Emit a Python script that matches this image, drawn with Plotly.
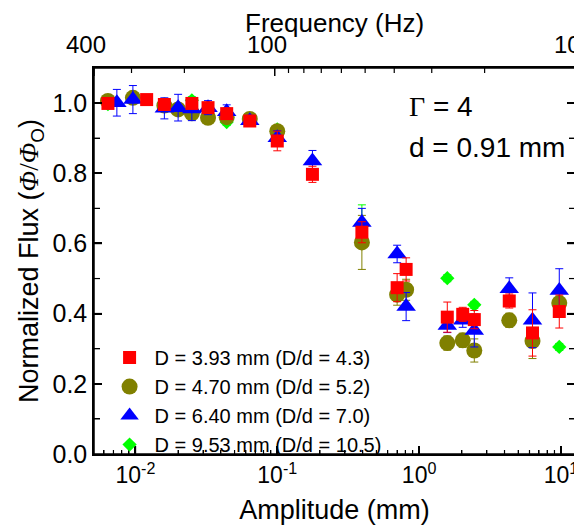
import numpy as np
import plotly.graph_objects as go

# ---- data (Amplitude in mm, normalized flux) ----
red_x = [0.0064, 0.012, 0.016, 0.025, 0.0325, 0.044, 0.064, 0.1, 0.177, 0.395, 0.70, 0.81, 1.58, 2.03, 2.45, 4.32, 6.3, 9.73]
red_y = [0.999, 1.01, 0.996, 0.999, 0.987, 0.97, 0.949, 0.892, 0.797, 0.632, 0.474, 0.526, 0.39, 0.398, 0.383, 0.436, 0.345, 0.406]
red_e = [0.01, 0.01, 0.012, 0.012, 0.012, 0.015, 0.015, 0.028, 0.023, 0.03, 0.04, 0.033, 0.043, 0.02, 0.026, 0.02, 0.066, 0.047]

olive_x = [0.0064, 0.0096, 0.016, 0.020, 0.025, 0.0325, 0.044, 0.064, 0.1, 0.395, 0.70, 0.81, 1.58, 2.03, 2.45, 4.32, 6.3, 9.73]
olive_y = [1.006, 1.015, 0.993, 0.982, 0.971, 0.958, 0.96, 0.955, 0.92, 0.603, 0.454, 0.468, 0.316, 0.324, 0.295, 0.381, 0.322, 0.43]
olive_e = [0.01, 0.01, 0.01, 0.01, 0.012, 0.012, 0.012, 0.012, 0.015, 0.077, 0.03, 0.03, 0.02, 0.02, 0.033, 0.02, 0.05, 0.03]

blue_x = [0.0074, 0.0096, 0.016, 0.020, 0.025, 0.0325, 0.044, 0.064, 0.1, 0.177, 0.395, 0.70, 0.81, 1.58, 2.03, 2.45, 4.32, 6.3, 9.73]
blue_y = [1.001, 1.01, 0.985, 0.987, 0.983, 0.987, 0.975, 0.95, 0.901, 0.835, 0.66, 0.57, 0.42, 0.366, 0.381, 0.352, 0.471, 0.381, 0.466]
blue_e = [0.038, 0.04, 0.03, 0.038, 0.033, 0.02, 0.02, 0.015, 0.02, 0.03, 0.04, 0.025, 0.04, 0.02, 0.02, 0.047, 0.031, 0.078, 0.062]

green_x = [0.0064, 0.025, 0.044, 0.1, 0.395, 1.58, 2.45, 9.73]
green_y = [0.997, 1.008, 0.946, 0.925, 0.65, 0.501, 0.425, 0.305]
green_e = [0.01, 0.01, 0.01, 0.01, 0.06, 0.01, 0.01, 0.01]

amp_range = [-2.292, 1.099]     # log10 of amplitude at left / right edge
amp_ticks = [0.01, 0.1, 1, 10]
amp_ticktext = ["10<sup>-2</sup>", "10<sup>-1</sup>", "10<sup>0</sup>", "10<sup>1</sup>"]
amp_minor = [m * 10.0 ** e for e in (-3, -2, -1, 0) for m in range(2, 10)]
flux_range = [0, 1.1]
flux_major = [0.0, 0.2, 0.4, 0.6, 0.8, 1.0]
flux_minor = [0.1, 0.3, 0.5, 0.7, 0.9]
freq_major = [400, 100, 10]
freq_minor = [300, 200, 90, 80, 70, 60, 50, 40, 30, 20]
freq_range = [400, 10]          # top axis: left edge -> right edge (log scale)

# name, x, y, err, color, symbol, size, legend rank   (drawn bottom -> top)
series = [
    ("D = 9.53 mm (D/d = 10.5)", green_x, green_y, green_e, "#00FF00", "diamond", 11, 4),
    ("D = 4.70 mm (D/d = 5.2)", olive_x, olive_y, olive_e, "#808000", "circle", 16, 2),
    ("D = 6.40 mm (D/d = 7.0)", blue_x, blue_y, blue_e, "#0000FF", "triangle-up", 17, 3),
    ("D = 3.93 mm (D/d = 4.3)", red_x, red_y, red_e, "#FF0000", "square", 13, 1),
]

FONT = "Liberation Sans, Arial, sans-serif"
W, H = 582, 532
M = dict(l=86, r=15, t=60, b=86)
PLOT_W = W - M["l"] - M["r"]
PLOT_H = H - M["t"] - M["b"]

fig = go.Figure()
for name, x, y, e, col, sym, sz, rank in series:
    fig.add_trace(go.Scatter(
        x=x, y=y, mode="markers", name=name, legendrank=rank,
        marker=dict(symbol=sym, size=sz, color=col, line=dict(width=0)),
        error_y=dict(type="data", array=e, visible=True, color=col, thickness=1, width=4),
    ))

axis_common = dict(showline=True, linecolor="black", linewidth=1.5, ticks="inside",
                   tickcolor="black", tickwidth=1.5, showgrid=False, zeroline=False,
                   automargin=False)

fig.update_layout(
    width=W, height=H,
    margin=M,
    paper_bgcolor="white", plot_bgcolor="white",
    font=dict(family=FONT, color="black"),
    xaxis=dict(type="log", range=amp_range, tickvals=amp_ticks, ticktext=amp_ticktext,
               ticklen=8, mirror=True,
               tickfont=dict(family=FONT, size=23, color="black"),
               minor=dict(tickvals=amp_minor, ticks="inside", ticklen=4, tickwidth=1.2, tickcolor="black"),
               title=dict(text="Amplitude (mm)", font=dict(family=FONT, size=27), standoff=13),
               **axis_common),
    yaxis=dict(range=flux_range, tickvals=flux_major, tickformat=".1f", ticklen=8, mirror="ticks",
               tickfont=dict(family=FONT, size=25, color="black"),
               minor=dict(tickvals=flux_minor, ticks="inside", ticklen=6, tickwidth=1.2, tickcolor="black"),
               title=dict(text="Normalized Flux (<span style='font-family:Liberation Serif'><i>Φ</i>/<i>Φ</i></span><sub>O</sub>)",
                          font=dict(family=FONT, size=27), standoff=6),
               **axis_common),
    legend=dict(x=0.022, y=0.137, xanchor="left", yanchor="middle", bgcolor="rgba(0,0,0,0)",
                font=dict(family=FONT, size=20, color="black"), itemwidth=40),
    showlegend=True,
)


def amp_to_paper(a):
    return (np.log10(a) - amp_range[0]) / (amp_range[1] - amp_range[0])


def flux_to_paper(v):
    return (v - flux_range[0]) / (flux_range[1] - flux_range[0])


def freq_to_paper(f):
    lo, hi = np.log10(freq_range[0]), np.log10(freq_range[1])
    return (np.log10(f) - lo) / (hi - lo)


def tick(xp0, xp1, yp0, yp1, w):
    fig.add_shape(type="line", xref="paper", yref="paper", x0=xp0, x1=xp1, y0=yp0, y1=yp1,
                  line=dict(color="black", width=w), layer="above")


# frame of the plot area
fig.add_shape(type="rect", xref="paper", yref="paper", x0=0, x1=1, y0=0, y1=1,
              line=dict(color="black", width=1.5), fillcolor="rgba(0,0,0,0)", layer="above")

# inside ticks: bottom amplitude axis
for v, ln, w in [(a, 8, 1.5) for a in amp_ticks] + [(a, 4, 1.2) for a in amp_minor]:
    xp = float(amp_to_paper(v))
    if 0 < xp < 1:
        tick(xp, xp, 0, ln / PLOT_H, w)

# inside ticks: left and right flux axes
for v, ln, w in [(f, 8, 1.5) for f in flux_major] + [(f, 6, 1.2) for f in flux_minor]:
    yp = float(flux_to_paper(v))
    if 0 < yp < 1:
        tick(0, ln / PLOT_W, yp, yp, w)
        tick(1, 1 - ln / PLOT_W, yp, yp, w)

# top frequency axis (log scale, 400 Hz at left edge, 10 Hz at right edge)
for f, ln, w in [(v, 8, 1.5) for v in freq_major] + [(v, 5, 1.2) for v in freq_minor]:
    xp = float(freq_to_paper(f))
    tick(xp, xp, 1, 1 - ln / PLOT_H, w)

for f in freq_major:
    fig.add_annotation(xref="paper", yref="paper", x=float(freq_to_paper(f)), y=1,
                       xanchor="center", yanchor="bottom", xshift=-8, yshift=8,
                       text=str(f), showarrow=False,
                       font=dict(family=FONT, size=24, color="black"))

fig.add_annotation(xref="paper", yref="paper", x=0.5, y=1.1166, xanchor="center", yanchor="middle",
                   text="Frequency (Hz)", showarrow=False,
                   font=dict(family=FONT, size=26, color="black"))

fig.add_annotation(xref="paper", yref="paper", x=0.65, y=0.899, xanchor="left", yanchor="middle",
                   text="<span style='font-family:Liberation Serif'>Γ</span> = 4", showarrow=False,
                   font=dict(family=FONT, size=28, color="black"))
fig.add_annotation(xref="paper", yref="paper", x=0.65, y=0.795, xanchor="left", yanchor="middle",
                   text="d = 0.91 mm", showarrow=False,
                   font=dict(family=FONT, size=28, color="black"))

fig.write_html("out.html")
